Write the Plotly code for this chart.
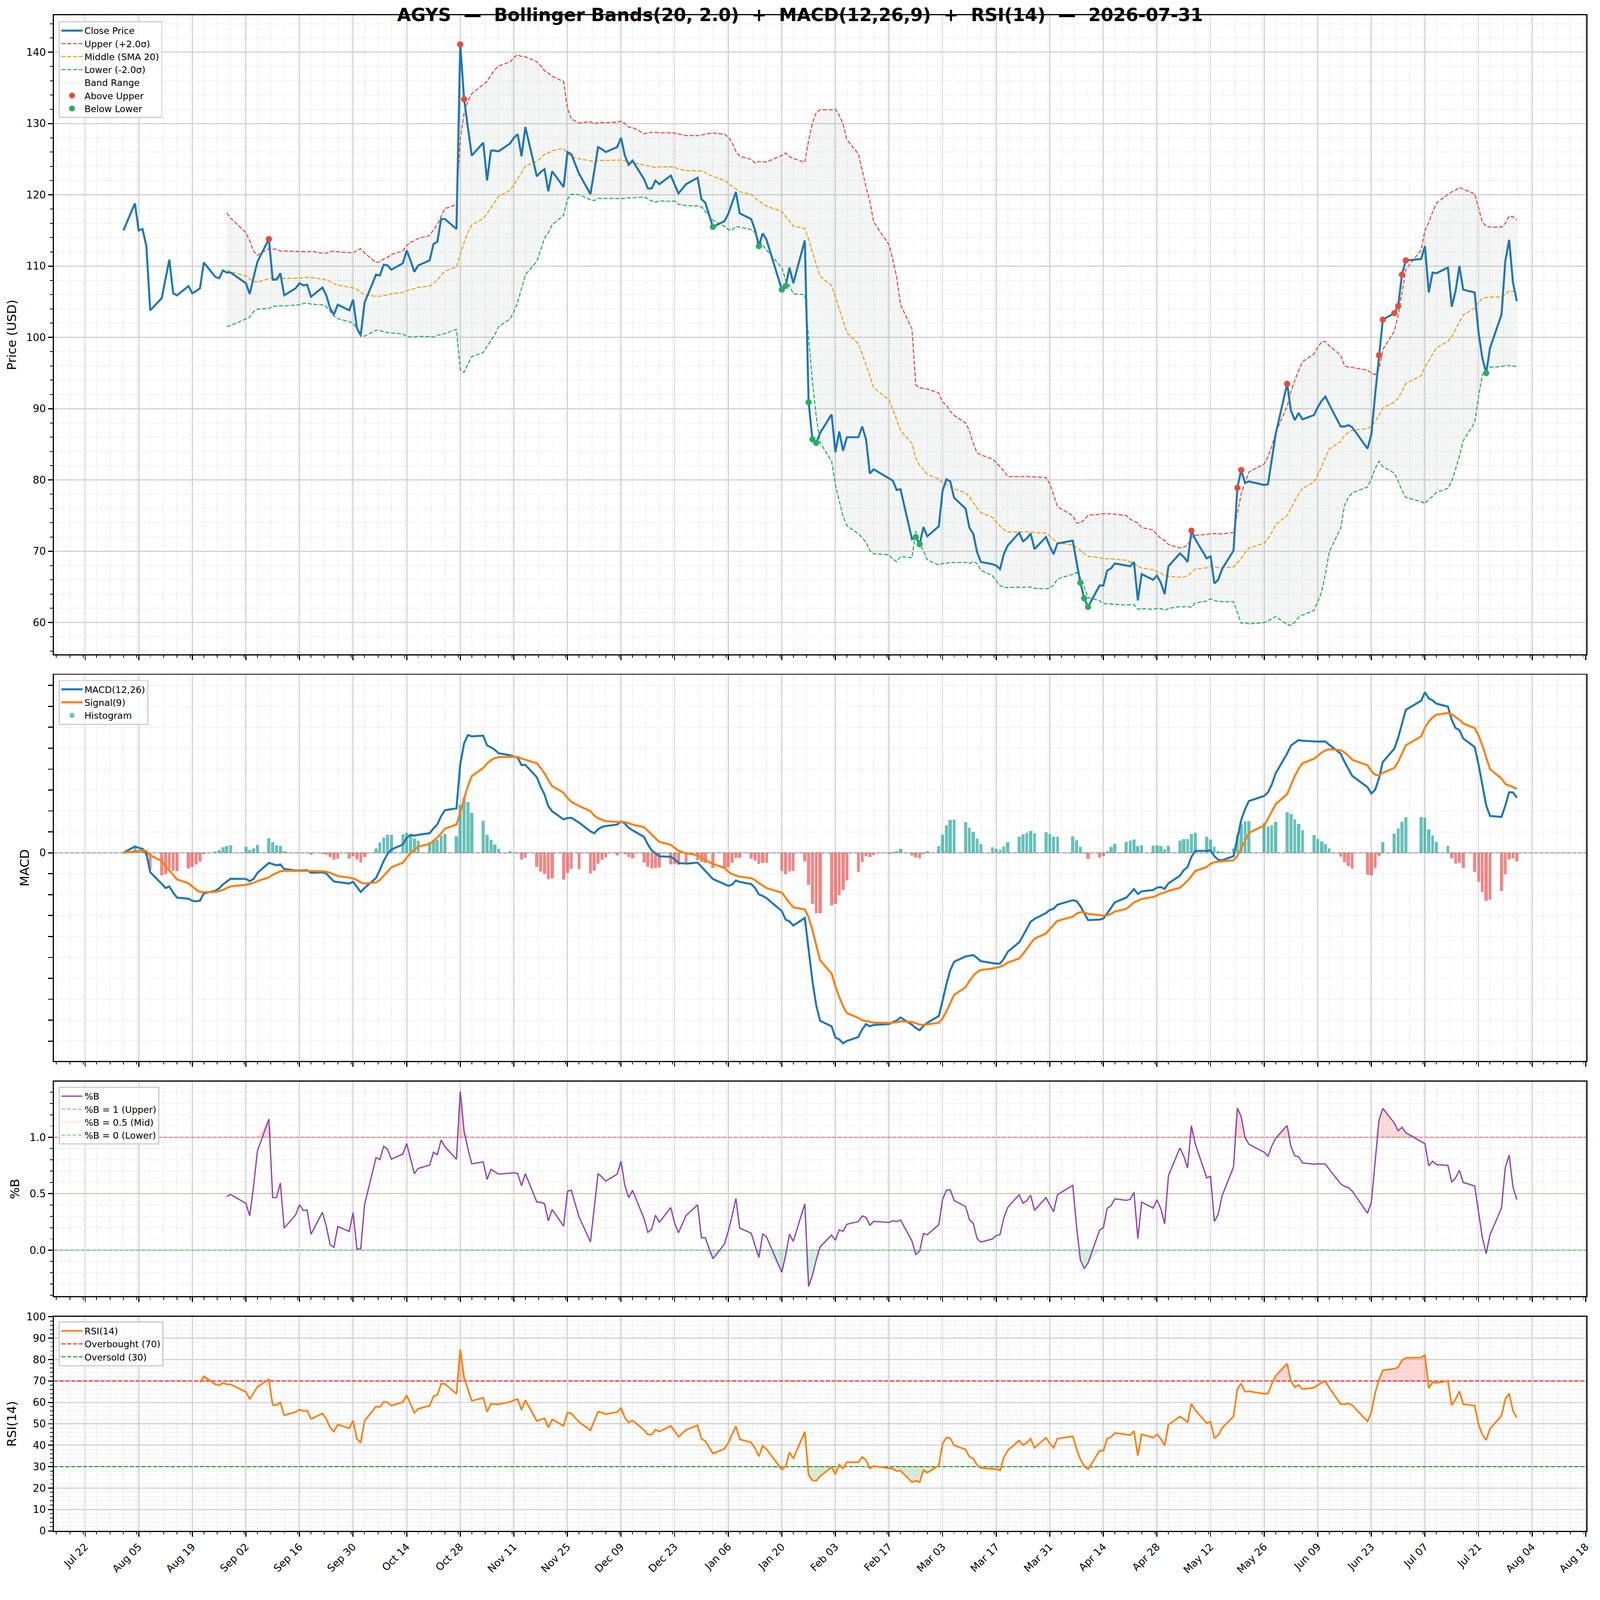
import numpy as np
import pandas as pd
import plotly.graph_objects as go

# chart settings
TICKER = "AGYS"
AS_OF = "2026-07-31"
BB_N, BB_K = 20, 2.0
FAST, SLOW, SIG = 12, 26, 9
RSI_N = 14
RSI_HI, RSI_LO, RSI_MID = 70, 30, 50
PB_HI, PB_MID, PB_LO = 1.0, 0.5, 0.0

# trading days (US market holidays are not in the data)
HOLIDAYS = ["2025-09-01", "2025-11-27", "2025-12-25", "2026-01-01", "2026-01-19",
            "2026-02-16", "2026-04-03", "2026-05-25", "2026-06-19", "2026-07-03"]
dates = pd.bdate_range("2025-08-01", "2026-07-31", freq="C", holidays=HOLIDAYS)

# closing prices
close_aug = [115.0, 118.8, 115.0, 115.2, 112.8, 103.8, 105.5, 108.2, 110.9, 106.2, 105.9,
             107.2, 106.2, 106.5, 106.9, 110.5, 108.5, 108.3, 109.4, 109.1, 109.1]
close_sep = [107.6, 106.1, 108.4, 110.6, 113.8, 108.1, 108.1, 109.0, 105.9, 106.9,
             107.6, 107.3, 107.4, 105.7, 107.0, 105.9, 104.1, 103.2, 104.6, 103.8, 105.3]
close_oct = [101.3, 100.3, 104.9, 108.8, 108.7, 110.2, 110.1, 109.5, 110.4, 112.2, 110.8,
             109.2, 110.1, 110.8, 113.1, 113.4, 116.6, 116.6, 115.2, 141.1, 133.4, 129.4, 125.5]
close_nov = [127.3, 122.0, 126.2, 126.2, 126.1, 127.2, 128.0, 128.5, 125.4, 129.5,
             122.6, 123.2, 123.6, 120.5, 123.3, 121.1, 126.0, 125.7, 123.0]
close_dec = [120.1, 123.3, 126.7, 126.4, 126.0, 126.7, 128.0, 125.5, 124.2, 124.8, 122.2,
             120.9, 120.9, 122.0, 121.5, 122.7, 121.4, 120.2, 121.5, 122.4, 119.4, 118.9]
close_jan = [115.5, 116.3, 117.3, 118.8, 120.4, 117.4, 116.6, 115.1, 112.8, 114.6,
             113.7, 106.7, 107.2, 109.8, 107.6, 113.6, 90.9, 85.7, 85.2, 86.6]
close_feb = [89.2, 83.9, 86.8, 84.1, 86.0, 86.0, 87.5, 85.7, 80.9, 81.5,
             80.2, 79.9, 78.6, 78.7, 71.7, 72.0, 71.0, 73.4, 72.1]
close_mar = [73.5, 78.5, 80.1, 79.8, 77.5, 76.0, 73.3, 72.5, 69.9, 68.5, 68.2,
             68.0, 67.5, 69.6, 70.8, 72.6, 71.4, 71.8, 72.5, 70.3, 72.0, 70.7]
close_apr = [69.6, 71.1, 71.5, 68.5, 65.6, 63.4, 62.2, 65.2, 65.2, 67.3,
             67.6, 68.3, 68.0, 67.9, 68.5, 63.1, 66.8, 66.0, 66.6, 65.6, 64.0]
close_may = [67.9, 69.7, 69.2, 68.5, 72.9, 71.7, 69.0, 69.3, 65.5, 66.0, 67.5,
             70.1, 78.9, 81.4, 79.6, 79.8, 79.3, 79.4, 82.9, 86.4]
close_jun = [93.5, 89.7, 88.4, 89.4, 88.5, 89.1, 90.2, 91.1, 91.7, 90.6, 87.5,
             87.5, 87.7, 87.4, 84.4, 86.4, 92.0, 97.5, 102.5, 103.4, 104.4]
close_jul = [108.8, 110.8, 111.0, 112.8, 106.3, 109.1, 109.0, 109.8, 104.3, 106.5, 110.0,
             106.7, 106.3, 100.7, 97.1, 95.0, 98.5, 103.2, 110.7, 113.7, 107.7, 105.1]

close = pd.Series(close_aug + close_sep + close_oct + close_nov + close_dec + close_jan +
                  close_feb + close_mar + close_apr + close_may + close_jun + close_jul,
                  index=dates)

# x tick labels every two weeks
tick_dates = pd.date_range("2025-07-22", "2026-08-18", freq="14D")
minor_dates = pd.date_range("2025-07-11", "2026-08-20", freq="84h")

# indicators
mid = close.rolling(BB_N).mean()
sd = close.rolling(BB_N).std()
upper = mid + BB_K * sd
lower = mid - BB_K * sd
pctb = (close - lower) / (upper - lower)

macd = close.ewm(span=FAST, adjust=False).mean() - close.ewm(span=SLOW, adjust=False).mean()
signal = macd.ewm(span=SIG, adjust=False).mean()
hist = macd - signal

delta = close.diff()
up = delta.clip(lower=0).ewm(alpha=1 / RSI_N, adjust=False, min_periods=RSI_N).mean()
dn = (-delta.clip(upper=0)).ewm(alpha=1 / RSI_N, adjust=False, min_periods=RSI_N).mean()
rsi = 100 - 100 / (1 + up / dn)

bb = pd.DataFrame({"u": upper, "m": mid, "l": lower, "c": close, "b": pctb}).dropna()
rs = rsi.dropna()
above = close[close > upper]
below = close[close < lower]

span = dates[-1] - dates[0]
xr = [dates[0] - 0.05 * span, dates[-1] + 0.05 * span]


def pad(lo, hi, f=0.05):
    d = (hi - lo) * f
    return [lo - d, hi + d]


W, H = 4377, 4322
XD = [147 / W, 4340 / W]


def ydom(top, bot):
    return [1 - bot / H, 1 - top / H]


FONT = "DejaVu Sans"
fig = go.Figure()

# ---- price panel
fig.add_trace(go.Scatter(x=bb.index, y=bb["u"], mode="lines", line=dict(width=0),
                         showlegend=False, hoverinfo="skip", xaxis="x", yaxis="y"))
fig.add_trace(go.Scatter(x=bb.index, y=bb["l"], mode="lines",
                         line=dict(width=0, color="rgba(149,165,166,0.25)"),
                         fill="tonexty", fillcolor="rgba(149,165,166,0.1)", name="Band Range",
                         legendrank=5, xaxis="x", yaxis="y"))
fig.add_trace(go.Scatter(x=bb.index, y=bb["u"], mode="lines", name="Upper (+2.0σ)",
                         line=dict(color="#e74c3c", width=3, dash="11px,5px"),
                         legendrank=2, xaxis="x", yaxis="y"))
fig.add_trace(go.Scatter(x=bb.index, y=bb["m"], mode="lines", name="Middle (SMA 20)",
                         line=dict(color="#f39c12", width=3, dash="11px,5px"),
                         legendrank=3, xaxis="x", yaxis="y"))
fig.add_trace(go.Scatter(x=bb.index, y=bb["l"], mode="lines", name="Lower (-2.0σ)",
                         line=dict(color="#27ae60", width=3, dash="11px,5px"),
                         legendrank=4, xaxis="x", yaxis="y"))
fig.add_trace(go.Scatter(x=dates, y=close, mode="lines", name="Close Price",
                         line=dict(color="#1f77b4", width=5.5),
                         legendrank=1, xaxis="x", yaxis="y"))
fig.add_trace(go.Scatter(x=above.index, y=above, mode="markers", name="Above Upper",
                         marker=dict(color="#e74c3c", size=17), legendrank=6, xaxis="x", yaxis="y"))
fig.add_trace(go.Scatter(x=below.index, y=below, mode="markers", name="Below Lower",
                         marker=dict(color="#27ae60", size=17), legendrank=7, xaxis="x", yaxis="y"))

# ---- MACD panel
pos = hist[hist >= 0]
neg = hist[hist < 0]
BARW = 0.8 * 86400000
fig.add_trace(go.Bar(x=pos.index, y=pos, width=BARW, name="Histogram", legendrank=3,
                     marker=dict(color="rgba(38,166,154,0.7)", line=dict(width=0)),
                     legend="legend2", xaxis="x2", yaxis="y2"))
fig.add_trace(go.Bar(x=neg.index, y=neg, width=BARW, showlegend=False,
                     marker=dict(color="rgba(239,83,80,0.7)", line=dict(width=0)),
                     legend="legend2", xaxis="x2", yaxis="y2"))
fig.add_trace(go.Scatter(x=xr, y=[0, 0], mode="lines", showlegend=False, hoverinfo="skip",
                         line=dict(color="#888888", width=2, dash="10px,5px"),
                         legend="legend2", xaxis="x2", yaxis="y2"))
fig.add_trace(go.Scatter(x=dates, y=macd, mode="lines", name="MACD(12,26)", legendrank=1,
                         line=dict(color="#1f77b4", width=5.5), legend="legend2",
                         xaxis="x2", yaxis="y2"))
fig.add_trace(go.Scatter(x=dates, y=signal, mode="lines", name="Signal(9)", legendrank=2,
                         line=dict(color="#ff7f0e", width=5.5), legend="legend2",
                         xaxis="x2", yaxis="y2"))

# ---- %B panel
fig.add_trace(go.Scatter(x=bb.index, y=[PB_HI] * len(bb), mode="lines", line=dict(width=0),
                         showlegend=False, hoverinfo="skip", legend="legend3", xaxis="x3", yaxis="y3"))
fig.add_trace(go.Scatter(x=bb.index, y=np.maximum(bb["b"], PB_HI), mode="lines", line=dict(width=0),
                         fill="tonexty", fillcolor="rgba(231,76,60,0.2)", showlegend=False,
                         hoverinfo="skip", legend="legend3", xaxis="x3", yaxis="y3"))
fig.add_trace(go.Scatter(x=bb.index, y=[PB_LO] * len(bb), mode="lines", line=dict(width=0),
                         showlegend=False, hoverinfo="skip", legend="legend3", xaxis="x3", yaxis="y3"))
fig.add_trace(go.Scatter(x=bb.index, y=np.minimum(bb["b"], PB_LO), mode="lines", line=dict(width=0),
                         fill="tonexty", fillcolor="rgba(39,174,96,0.2)", showlegend=False,
                         hoverinfo="skip", legend="legend3", xaxis="x3", yaxis="y3"))
fig.add_trace(go.Scatter(x=xr, y=[PB_HI] * 2, mode="lines", name="%B = 1 (Upper)", legendrank=2,
                         line=dict(color="rgba(231,76,60,0.7)", width=2.5, dash="10px,5px"),
                         legend="legend3", xaxis="x3", yaxis="y3"))
fig.add_trace(go.Scatter(x=xr, y=[PB_MID] * 2, mode="lines", name="%B = 0.5 (Mid)", legendrank=3,
                         line=dict(color="rgba(243,156,18,0.6)", width=2.5, dash="3px,4px"),
                         legend="legend3", xaxis="x3", yaxis="y3"))
fig.add_trace(go.Scatter(x=xr, y=[PB_LO] * 2, mode="lines", name="%B = 0 (Lower)", legendrank=4,
                         line=dict(color="rgba(39,174,96,0.7)", width=2.5, dash="10px,5px"),
                         legend="legend3", xaxis="x3", yaxis="y3"))
fig.add_trace(go.Scatter(x=bb.index, y=bb["b"], mode="lines", name="%B", legendrank=1,
                         line=dict(color="#8e44ad", width=3.5), legend="legend3",
                         xaxis="x3", yaxis="y3"))

# ---- RSI panel
fig.add_trace(go.Scatter(x=rs.index, y=[RSI_HI] * len(rs), mode="lines", line=dict(width=0),
                         showlegend=False, hoverinfo="skip", legend="legend4", xaxis="x4", yaxis="y4"))
fig.add_trace(go.Scatter(x=rs.index, y=np.maximum(rs, RSI_HI), mode="lines", line=dict(width=0),
                         fill="tonexty", fillcolor="rgba(255,0,0,0.15)", showlegend=False,
                         hoverinfo="skip", legend="legend4", xaxis="x4", yaxis="y4"))
fig.add_trace(go.Scatter(x=rs.index, y=[RSI_LO] * len(rs), mode="lines", line=dict(width=0),
                         showlegend=False, hoverinfo="skip", legend="legend4", xaxis="x4", yaxis="y4"))
fig.add_trace(go.Scatter(x=rs.index, y=np.minimum(rs, RSI_LO), mode="lines", line=dict(width=0),
                         fill="tonexty", fillcolor="rgba(0,128,0,0.15)", showlegend=False,
                         hoverinfo="skip", legend="legend4", xaxis="x4", yaxis="y4"))
fig.add_trace(go.Scatter(x=xr, y=[RSI_HI] * 2, mode="lines", name="Overbought (70)", legendrank=2,
                         line=dict(color="rgba(255,0,0,0.8)", width=3, dash="11px,5px"),
                         legend="legend4", xaxis="x4", yaxis="y4"))
fig.add_trace(go.Scatter(x=xr, y=[RSI_LO] * 2, mode="lines", name="Oversold (30)", legendrank=3,
                         line=dict(color="rgba(0,128,0,0.8)", width=3, dash="11px,5px"),
                         legend="legend4", xaxis="x4", yaxis="y4"))
fig.add_trace(go.Scatter(x=xr, y=[RSI_MID] * 2, mode="lines", showlegend=False, hoverinfo="skip",
                         line=dict(color="rgba(128,128,128,0.6)", width=2.5, dash="3px,4px"),
                         legend="legend4", xaxis="x4", yaxis="y4"))
fig.add_trace(go.Scatter(x=rs.index, y=rs, mode="lines", name="RSI(14)", legendrank=1,
                         line=dict(color="#ff7f0e", width=4.5), legend="legend4",
                         xaxis="x4", yaxis="y4"))

# ---- axes
minor = dict(ticks="outside", ticklen=7, tickwidth=2, tickcolor="black", showgrid=True,
             gridcolor="#e4e4e4", gridwidth=1.5, griddash="dot")


def axis(**kw):
    d = dict(showline=True, linecolor="black", linewidth=3, mirror=True, ticks="outside",
             ticklen=13, tickwidth=2.5, tickcolor="black", showgrid=True, gridcolor="#d2d2d2",
             gridwidth=2.5, zeroline=False, automargin=False,
             tickfont=dict(size=28, color="black", family=FONT))
    d.update(kw)
    return d


def xaxis(anchor, labels):
    return axis(type="date", domain=XD, anchor=anchor, range=xr, tickmode="array",
                tickvals=tick_dates, ticktext=[d.strftime("%b %d") for d in tick_dates],
                tickangle=-45, showticklabels=labels,
                minor=dict(minor, tickmode="array", tickvals=minor_dates))


def ytitle(t):
    return dict(text=t, font=dict(size=34, color="black", family=FONT), standoff=18)


prange = pad(min(bb["l"].min(), close.min()), max(bb["u"].max(), close.max()))
mlo = min(macd.min(), signal.min(), hist.min())
mhi = max(macd.max(), signal.max(), hist.max())
brange = pad(bb["b"].min(), bb["b"].max())

legend_style = dict(bgcolor="rgba(255,255,255,0.85)", bordercolor="#cccccc", borderwidth=3,
                    font=dict(size=25, color="black", family=FONT), xanchor="left",
                    yanchor="top", x=160 / W, itemwidth=58, traceorder="normal")

fig.update_layout(
    width=W, height=H, margin=dict(l=0, r=0, t=0, b=0),
    paper_bgcolor="white", plot_bgcolor="white",
    font=dict(family=FONT, color="black"),
    barmode="overlay", bargap=0,
    title=dict(text="<b>" + "\u00a0\u00a0—\u00a0\u00a0".join([
        TICKER, "Bollinger Bands(20, 2.0)\u00a0\u00a0+\u00a0\u00a0MACD(12,26,9)\u00a0\u00a0+\u00a0\u00a0RSI(14)",
        AS_OF]) + "</b>",
        x=0.5, xanchor="center", y=1 - 41 / H, yanchor="middle",
        font=dict(size=49, color="black", family=FONT)),
    xaxis=xaxis("y", False),
    xaxis2=xaxis("y2", False),
    xaxis3=xaxis("y3", False),
    xaxis4=xaxis("y4", True),
    yaxis=axis(domain=ydom(42, 1790), anchor="x", range=prange, dtick=10,
               title=ytitle("Price (USD)"), minor=dict(minor, dtick=2)),
    yaxis2=axis(domain=ydom(1846, 2902), anchor="x2", range=pad(mlo, mhi),
                tickmode="array", tickvals=[0], ticktext=["0"], title=ytitle("MACD"),
                minor=dict(minor, dtick=1, tick0=0, ticklen=13, tickwidth=2.5)),
    yaxis3=axis(domain=ydom(2959, 3546), anchor="x3", range=brange, dtick=0.5,
                tickformat=".1f", title=ytitle("%B"), minor=dict(minor, dtick=0.1, tick0=0)),
    yaxis4=axis(domain=ydom(3602, 4188), anchor="x4", range=[0, 100], dtick=10,
                title=ytitle("RSI(14)"), minor=dict(minor, dtick=2)),
    legend=dict(legend_style, y=1 - 58 / H),
    legend2=dict(legend_style, y=1 - 1860 / H),
    legend3=dict(legend_style, y=1 - 2973 / H),
    legend4=dict(legend_style, y=1 - 3615 / H),
)

# fit the fixed-size figure into whatever viewport the page is shown in (same scale both ways)
fit_js = """
var gd = document.getElementById('{plot_id}');
document.documentElement.style.margin = '0';
document.documentElement.style.overflow = 'hidden';
document.body.style.margin = '0';
document.body.style.overflow = 'hidden';
var s = window.innerWidth / %d;
gd.style.transformOrigin = '0 0';
gd.style.transform = 'scale(' + s + ')';
""" % W

fig.write_html("out.html", post_script=fit_js, config={"displayModeBar": False})
